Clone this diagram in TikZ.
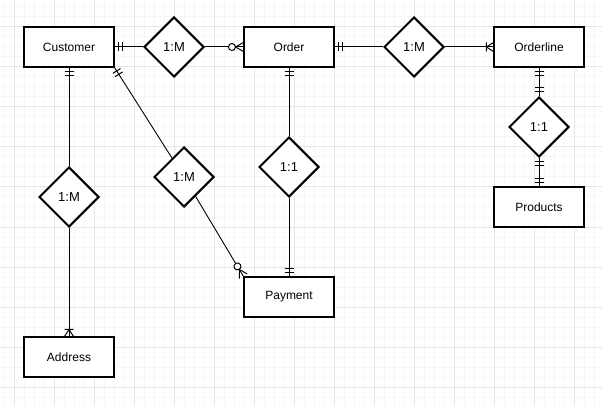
\documentclass[tikz,border=0pt]{standalone}
\usepackage{fontspec}
\setmainfont{Liberation Sans}
\usetikzlibrary{shapes.geometric,decorations.markings}
\definecolor{majorgrid}{RGB}{230,230,230}
\definecolor{minorgrid}{RGB}{246,246,246}
\tikzset{
  mk/.style={line width=1pt, draw=black},
  ent/.style={draw=black, line width=1.1pt, fill=white, minimum width=90pt, minimum height=40pt, inner sep=0pt, font=\fontsize{12}{14}\selectfont},
  rel/.style={diamond, draw=black, line width=2pt, fill=white, minimum width=60pt, minimum height=60pt, inner sep=0pt, font=\fontsize{13}{15}\selectfont},
  conn/.style={draw=black, line width=1pt},
  diag/.style={draw=black, line width=0.9pt},
  one start/.style={postaction={decorate,decoration={markings,
    mark=at position 4pt with {\draw[mk] (0,-4.5pt) -- (0,4.5pt);},
    mark=at position 8pt with {\draw[mk] (0,-4.5pt) -- (0,4.5pt);}}}},
  one end/.style={postaction={decorate,decoration={markings,
    mark=at position -8pt with {\draw[mk] (0,-4.5pt) -- (0,4.5pt);},
    mark=at position -4pt with {\draw[mk] (0,-4.5pt) -- (0,4.5pt);}}}},
  onemany end/.style={postaction={decorate,decoration={markings,
    mark=at position -7pt with {\draw[mk] (0,-4.5pt) -- (0,4.5pt) (0,0) -- (7pt,4.5pt) (0,0) -- (7pt,-4.5pt);}}}},
  zeromany end/.style={postaction={decorate,decoration={markings,
    mark=at position -11.5pt with {\draw[mk,fill=white] (0,0) circle (3.5pt);},
    mark=at position -8pt with {\draw[mk] (0,0) -- (8pt,4.5pt) (0,0) -- (8pt,-4.5pt);}}}}
}
\begin{document}
\begin{tikzpicture}[x=1pt,y=-1pt]
\useasboundingbox (0,0) rectangle (602,406);
\fill[white] (0,0) rectangle (602,406);
% grid
\foreach \x in {4,14,...,604} \draw[minorgrid, line width=1pt] (\x,0) -- (\x,406);
\foreach \y in {7,17,...,407} \draw[minorgrid, line width=1pt] (0,\y) -- (602,\y);
\foreach \x in {14,54,...,574} \draw[majorgrid, line width=1pt] (\x,0) -- (\x,406);
\foreach \y in {27,67,...,387} \draw[majorgrid, line width=1pt] (0,\y) -- (602,\y);
% entities
\node[ent] (cust) at (69,47) {Customer};
\node[ent] (order) at (289,47) {Order};
\node[ent] (oline) at (539,47) {Orderline};
\node[ent] (prod) at (539,207) {Products};
\node[ent] (pay) at (289,297) {Payment};
\node[ent] (addr) at (69,357) {Address};
% relationships
\node[rel] (d1) at (174,47) {1:M};
\node[rel] (d2) at (414,47) {1:M};
\node[rel] (d3) at (539,127) {1:1};
\node[rel] (d4) at (69,197) {1:M};
\node[rel] (d5) at (184,177) {1:M};
\node[rel] (d6) at (289,167) {1:1};
% connectors
\draw[conn, one start] (cust.east) -- (d1.west);
\draw[conn, zeromany end] (d1.east) -- (order.west);
\draw[conn, one start] (order.east) -- (d2.west);
\draw[conn, onemany end] (d2.east) -- (oline.west);
\draw[conn, one start, one end] (oline.south) -- (d3.north);
\draw[conn, one start, one end] (d3.south) -- (prod.north);
\draw[conn, one start] (cust.south) -- (d4.north);
\draw[conn, onemany end] (d4.south) -- (addr.north);
\draw[conn, one start] (order.south) -- (d6.north);
\draw[conn, one end] (d6.south) -- (pay.north);
\draw[diag, one start] (cust.south east) -- (d5);
\draw[diag, zeromany end] (d5) -- (pay.north west);
\end{tikzpicture}
\end{document}
